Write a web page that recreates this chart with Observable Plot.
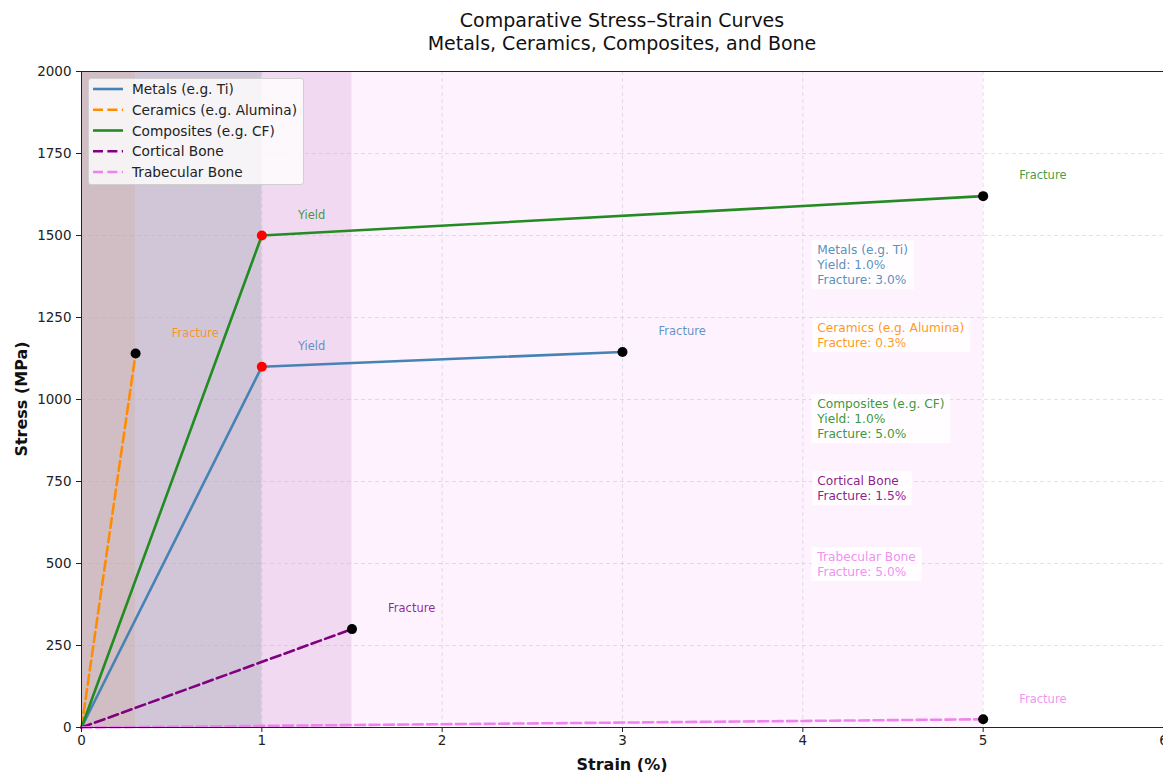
<!DOCTYPE html>
<html><head><meta charset="utf-8">
<script src="https://cdn.jsdelivr.net/npm/d3@7"></script>
<script src="https://cdn.jsdelivr.net/npm/@observablehq/plot@0.6"></script>
<style>
body{margin:0;background:#fff;font-family:"DejaVu Sans",sans-serif;}
#wrap{position:relative;width:1163px;height:772px;overflow:hidden;}
#title{position:absolute;left:81px;width:1082px;top:9px;text-align:center;font-size:19px;line-height:23px;color:#111;}
#legend{position:absolute;left:88px;top:78px;width:214px;height:105px;background:rgba(255,255,255,0.8);border:1px solid #d0d0d0;border-radius:3px;}
</style></head><body>
<div id="wrap"><div id="title">Comparative Stress–Strain Curves<br>Metals, Ceramics, Composites, and Bone</div></div>
<script>
const materials = ["Metals (e.g. Ti)", "Ceramics (e.g. Alumina)", "Composites (e.g. CF)", "Cortical Bone", "Trabecular Bone"];
const colors = ["#4682b4", "#ff8c00", "#228b22", "#800080", "#ee82ee"];
const dashed = [false, true, false, true, true];
const yieldStrain = [1.0, null, 1.0, null, null];
const yieldStress = [1100, null, 1500, null, null];
const fractureStrain = [3.0, 0.3, 5.0, 1.5, 5.0];
const fractureStress = [1145, 1140, 1620, 300, 25];
const spanEnd = [1.0, 0.3, 1.0, 1.5, 5.0];
const infoTop = [1475, 1238, 1006, 771, 540];
const xTicks = [0, 1, 2, 3, 4, 5, 6];
const yTicks = [0, 250, 500, 750, 1000, 1250, 1500, 1750, 2000];

const DASH = "10,4.4";
const curves = materials.map((m, i) => {
  const pts = [{strain: 0, stress: 0, m}];
  if (yieldStrain[i] != null) pts.push({strain: yieldStrain[i], stress: yieldStress[i], m});
  pts.push({strain: fractureStrain[i], stress: fractureStress[i], m});
  return pts;
});
const spans = materials.map((m, i) => ({m, x1: 0, x2: spanEnd[i], color: colors[i]}));
const yields = materials.map((m, i) => ({m, x: yieldStrain[i], y: yieldStress[i], color: colors[i]})).filter(d => d.x != null);
const fractures = materials.map((m, i) => ({m, x: fractureStrain[i], y: fractureStress[i], color: colors[i]}));
const infos = materials.map((m, i) => {
  let t = m;
  if (yieldStrain[i] != null) t += `\nYield: ${yieldStrain[i].toFixed(1)}%`;
  t += `\nFracture: ${fractureStrain[i].toFixed(1)}%`;
  return {t, y: infoTop[i], color: colors[i]};
});

const marks = [];
spans.forEach(s => marks.push(Plot.rectX([s], {x1: "x1", x2: "x2", y1: 0, y2: 2000, fill: s.color, fillOpacity: 0.1})));
marks.push(Plot.gridX(xTicks.slice(1, -1), {stroke: "#b0b0b0", strokeOpacity: 0.35, strokeDasharray: "4,3"}));
marks.push(Plot.gridY(yTicks.slice(1, -1), {stroke: "#b0b0b0", strokeOpacity: 0.35, strokeDasharray: "4,3"}));
curves.forEach((c, i) => marks.push(Plot.line(c, {x: "strain", y: "stress", stroke: colors[i], strokeWidth: 2.6, strokeDasharray: dashed[i] ? DASH : null})));
marks.push(Plot.dot(yields, {x: "x", y: "y", fill: "red", r: 5}));
marks.push(Plot.dot(fractures, {x: "x", y: "y", fill: "black", r: 5}));
marks.push(Plot.text(yields, {x: d => d.x + 0.2, y: d => d.y + 62, text: () => "Yield", fill: "color", fillOpacity: 0.85, textAnchor: "start", fontSize: 11.5}));
marks.push(Plot.text(fractures, {x: d => d.x + 0.2, y: d => d.y + 62, text: () => "Fracture", fill: "color", fillOpacity: 0.85, textAnchor: "start", fontSize: 11.5}));
marks.push(Plot.text(infos, {x: 4.08, y: "y", text: "t", fill: "color", fillOpacity: 0.9, textAnchor: "start", lineAnchor: "top", fontSize: 12.2, lineHeight: 1.23}));
marks.push(Plot.ruleX([0], {stroke: "#222", strokeWidth: 1}));
marks.push(Plot.ruleY([0, 2000], {stroke: "#222", strokeWidth: 1}));
marks.push(Plot.axisX(xTicks, {tickSize: 5, tickPadding: 3, fontSize: 13.5, label: null, color: "#222", tickFormat: d => String(d)}));
marks.push(Plot.axisY(yTicks, {tickSize: 5, tickPadding: 5, fontSize: 13.5, label: null, color: "#222", tickFormat: d => String(d)}));

const chart = Plot.plot({
  width: 1163, height: 772,
  marginTop: 71, marginBottom: 45, marginLeft: 81, marginRight: 0,
  x: {domain: [0, 6]},
  y: {domain: [0, 2000]},
  style: {fontFamily: "DejaVu Sans, sans-serif", background: "transparent"},
  marks
});
const wrap = document.getElementById("wrap");
wrap.insertBefore(chart, wrap.firstChild);
chart.style.position = "absolute"; chart.style.left = "0"; chart.style.top = "0";

// white boxes behind info text blocks
const svg = d3.select(chart);
svg.selectAll("text").each(function() {
  const spansT = this.querySelectorAll("tspan");
  if (spansT.length < 2 || !materials.includes(spansT[0].textContent)) return;
  const b = this.getBBox();
  const r = document.createElementNS("http://www.w3.org/2000/svg", "rect");
  r.setAttribute("x", b.x - 5); r.setAttribute("y", b.y - 3);
  r.setAttribute("width", b.width + 11); r.setAttribute("height", b.height + 5);
  r.setAttribute("fill", "white"); r.setAttribute("fill-opacity", 0.8);
  const tr = this.getAttribute("transform");
  if (tr) r.setAttribute("transform", tr);
  this.parentNode.insertBefore(r, this);
});
// axis labels
svg.append("text").attr("x", 622).attr("y", 764).attr("text-anchor", "middle").attr("dominant-baseline", "central")
  .attr("font-weight", "bold").attr("font-size", 16).attr("fill", "#111").text("Strain (%)");
svg.append("text").attr("transform", "translate(21,399) rotate(-90)").attr("text-anchor", "middle").attr("dominant-baseline", "central")
  .attr("font-weight", "bold").attr("font-size", 16).attr("fill", "#111").text("Stress (MPa)");

// legend
const leg = document.createElement("div");
leg.id = "legend";
let html = '<svg width="214" height="105" style="position:absolute;left:0;top:0">';
materials.forEach((m, i) => {
  const y = 10 + i * 20.75;
  html += `<line x1="4" x2="34" y1="${y}" y2="${y}" stroke="${colors[i]}" stroke-width="2.6" ${dashed[i] ? 'stroke-dasharray="' + DASH + '"' : ''}/>`;
  html += `<text x="43" y="${y}" dominant-baseline="central" font-size="13.7" fill="#222" font-family="DejaVu Sans">${m}</text>`;
});
html += '</svg>';
leg.innerHTML = html;
wrap.appendChild(leg);
</script>
</body></html>
